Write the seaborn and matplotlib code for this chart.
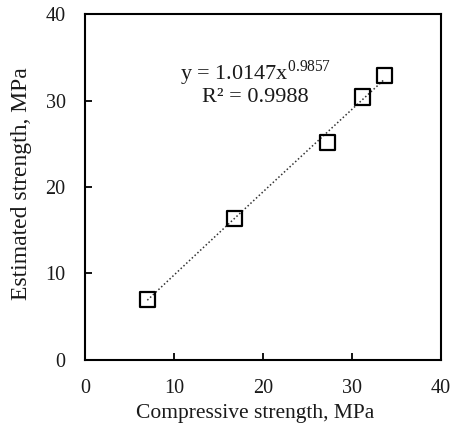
import numpy as np
import pandas as pd
import matplotlib
matplotlib.use("Agg")
import matplotlib.pyplot as plt
import seaborn as sns

# data
compressive = [7.0, 16.8, 27.2, 31.2, 33.6]
estimated = [7.0, 16.4, 25.1, 30.4, 32.9]
coef_a = 1.0147
coef_b = 0.9857
r2 = 0.9988
x_ticks = [0, 10, 20, 30, 40]
y_ticks = [0, 10, 20, 30, 40]

sns.set_style("ticks")
plt.rcParams['font.family'] = ['Liberation Serif', 'DejaVu Serif']
plt.rcParams['mathtext.fontset'] = 'custom'
plt.rcParams['mathtext.rm'] = 'Liberation Serif'

df = pd.DataFrame({'x': compressive, 'y': estimated})
xs = np.linspace(min(compressive), max(compressive), 50)
trend = pd.DataFrame({'x': xs, 'y': coef_a * xs ** coef_b})

fig, ax = plt.subplots(figsize=(4.52, 4.25), dpi=100)
fig.subplots_adjust(left=0.188, right=0.976, top=0.967, bottom=0.153)

sns.lineplot(data=trend, x='x', y='y', ax=ax, color='#333333',
             linestyle=(0, (1, 1.5)), linewidth=1.1)
sns.scatterplot(data=df, x='x', y='y', ax=ax, marker='s', s=120,
                facecolor='none', edgecolor='black', linewidth=1.6, zorder=3)

txt_color = '#1a1a1a'
ax.text(19.1, 33.2, f"y = {coef_a:.4f}x$^{{{coef_b}}}$", ha='center', va='center',
        fontsize=16, color=txt_color)
ax.text(19.1, 30.3, f"R² = {r2}", ha='center', va='center', fontsize=16, color=txt_color)

ax.set_xlim(0, 40)
ax.set_ylim(0, 40)
ax.set_xticks(x_ticks)
ax.set_yticks(y_ticks)
ax.tick_params(direction='in', length=5, width=1.3, labelsize=14.5,
               color='black', labelcolor=txt_color, pad=14)
for sp in ax.spines.values():
    sp.set_visible(True)
    sp.set_linewidth(1.5)
    sp.set_color('black')

ax.set_xlabel("Compressive strength, MPa", fontsize=15.5, color=txt_color)
ax.set_ylabel("Estimated strength, MPa", fontsize=17, color=txt_color)
ax.xaxis.set_label_coords(0.478, -0.128)
ax.yaxis.set_label_coords(-0.15, 0.51)

fig.savefig("out.png", dpi=100)
